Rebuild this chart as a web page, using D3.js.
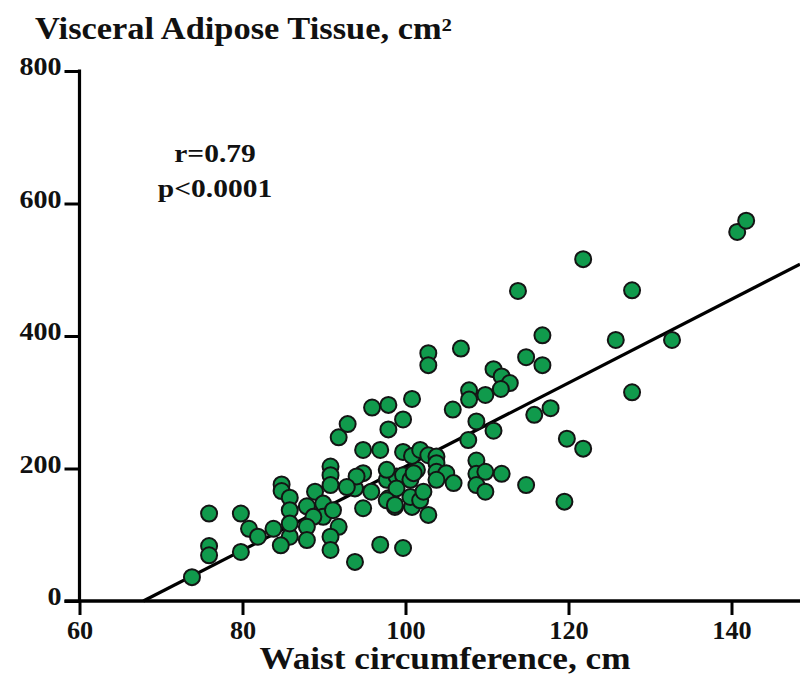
<!DOCTYPE html>
<html>
<head>
<meta charset="utf-8">
<script src="https://cdn.jsdelivr.net/npm/d3@7"></script>
<style>
  html, body { margin: 0; padding: 0; background: #ffffff; }
  svg { display: block; }
  text { font-family: "Liberation Serif", "Times New Roman", serif; font-weight: bold; fill: #111; }
</style>
</head>
<body>
<svg id="chart" width="800" height="677"></svg>
<script>
// ---- data ----
const xTickValues = [60, 80, 100, 120, 140];
const yTickValues = [0, 200, 400, 600, 800];
const titleText = "Visceral Adipose Tissue, cm²";
const xLabelText = "Waist circumference, cm";
const statLines = ["r=0.79", "p<0.0001"];

const waist = [
  73.8, 75.9, 75.9, 75.9, 79.8, 79.8, 80.8, 81.9, 83.8, 84.8,
  84.8, 85.8, 85.8, 85.8, 84.7, 88.9, 87.9, 89.9, 89.9, 88.7,
  91.1, 87.9, 87.9, 85.8, 91.8, 90.8, 90.8, 93.8, 96.9, 99.7,
  90.8, 90.8, 90.8, 91.8, 92.9, 94.8, 96.9, 95.9, 97.9, 100.8,
  99.7, 97.9, 94.8, 93.8, 94.8, 95.8, 97.9, 97.7, 98.9, 99.7,
  98.9, 100.6, 100.8, 98.7, 100.6, 94.0, 92.8, 101.4, 97.7, 99.7,
  100.8, 101.8, 102.8, 103.8, 103.8, 101.0, 103.8, 105.0, 103.8, 105.9,
  101.8, 102.2, 102.8, 97.7, 98.7, 102.8, 102.8, 106.8, 105.8, 107.8,
  107.8, 109.8, 110.8, 111.8, 112.8, 111.7, 108.7, 110.8, 107.7, 108.7,
  108.7, 109.8, 111.8, 108.7, 109.8, 114.8, 113.8, 114.8, 116.8, 116.8,
  115.8, 117.8, 119.8, 121.8, 119.5, 121.8, 127.8, 125.8, 132.7, 127.8,
  140.7, 141.8
];
const vat = [
  36, 132, 83, 69, 132, 74, 109, 97, 109, 176,
  166, 156, 137, 97, 84, 165, 143, 147, 127, 127,
  137, 112, 92, 117, 112, 97, 77, 59, 85, 80,
  203, 190, 175, 247, 267, 228, 228, 292, 296, 305,
  274, 259, 140, 170, 193, 165, 155, 183, 188, 190,
  170, 183, 142, 142, 157, 188, 172, 198, 198, 225,
  219, 228, 220, 218, 208, 193, 195, 193, 183, 178,
  152, 165, 130, 152, 145, 374, 356, 381, 289, 318,
  304, 311, 350, 339, 329, 320, 271, 257, 243, 212,
  192, 195, 192, 175, 165, 175, 468, 368, 401, 356,
  281, 291, 245, 230, 150, 516, 469, 394, 394, 315,
  557, 574
];
// regression line: VAT = slope * waist + intercept
const fitSlope = 6.31;
const fitIntercept = -428;

// ---- chart ----
const svg = d3.select("#chart");
const x = d3.scaleLinear().domain([60, 140]).range([79.5, 731.5]);
const y = d3.scaleLinear().domain([0, 800]).range([601, 71]);
const W = 800;

// widen glyphs slightly (reference type is a little wide for its height)
function stretch(sel, factor) {
  sel.each(function () {
    const len = this.getComputedTextLength();
    d3.select(this).attr("textLength", len * factor).attr("lengthAdjust", "spacingAndGlyphs");
  });
}

// title
svg.append("text")
  .attr("x", 35).attr("y", 39)
  .attr("font-size", 31)
  .text(titleText)
  .call(stretch, 1.11);

// stats
svg.selectAll("text.stat").data(statLines).enter().append("text")
  .attr("class", "stat")
  .attr("x", 215).attr("y", (d, i) => 162 + i * 35)
  .attr("text-anchor", "middle")
  .attr("font-size", 25)
  .text(d => d)
  .call(stretch, 1.18);

// regression line (clipped at the plot's right edge / x-axis)
const xStart = -fitIntercept / fitSlope;
const xEnd = x.invert(W);
svg.append("line")
  .attr("x1", x(xStart)).attr("y1", y(fitSlope * xStart + fitIntercept))
  .attr("x2", x(xEnd)).attr("y2", y(fitSlope * xEnd + fitIntercept))
  .attr("stroke", "#000").attr("stroke-width", 3.2);

// points
const pts = waist.map((w, i) => ({ w, v: vat[i] }));
svg.append("g").selectAll("circle").data(pts).enter().append("circle")
  .attr("cx", d => x(d.w)).attr("cy", d => y(d.v))
  .attr("r", 8)
  .attr("fill", "#109a4c")
  .attr("stroke", "#141414")
  .attr("stroke-width", 2);

// y axis
const yAxis = d3.axisLeft(y).tickValues(yTickValues).tickSize(15).tickPadding(3).tickSizeOuter(0);
const gy = svg.append("g").attr("transform", `translate(${x(60)},0)`).call(yAxis);
gy.select(".domain").remove();
gy.selectAll(".tick line").attr("stroke", "#000").attr("stroke-width", 3);
gy.selectAll(".tick text").attr("font-size", 26).attr("dy", "0.15em")
  .style("font-family", '"Liberation Serif", serif').style("font-weight", "bold").attr("fill", "#111")
  .call(stretch, 1.08);
svg.append("line")
  .attr("x1", x(60)).attr("x2", x(60))
  .attr("y1", y(800) - 1.5).attr("y2", y(0))
  .attr("stroke", "#000").attr("stroke-width", 3.2);

// x axis
const xAx = d3.axisBottom(x).tickValues(xTickValues).tickSize(14).tickPadding(6).tickSizeOuter(0);
const gx = svg.append("g").attr("transform", `translate(0,${y(0)})`).call(xAx);
gx.select(".domain").remove();
gx.selectAll(".tick line").attr("stroke", "#000").attr("stroke-width", 3);
gx.selectAll(".tick text").attr("font-size", 25)
  .style("font-family", '"Liberation Serif", serif').style("font-weight", "bold").attr("fill", "#111")
  .call(stretch, 1.05);
svg.append("line")
  .attr("x1", x(60) - 15).attr("x2", W)
  .attr("y1", y(0)).attr("y2", y(0))
  .attr("stroke", "#000").attr("stroke-width", 3.4);

// x label
svg.append("text")
  .attr("x", 445).attr("y", 669)
  .attr("text-anchor", "middle")
  .attr("font-size", 32)
  .text(xLabelText)
  .call(stretch, 1.1);
</script>
</body>
</html>
